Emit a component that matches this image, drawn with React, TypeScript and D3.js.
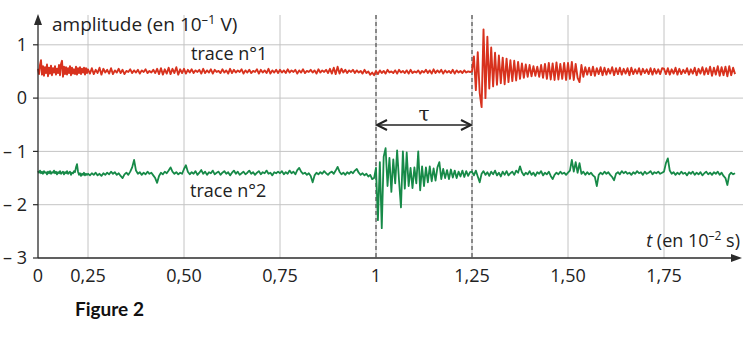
import React from 'react'
import * as d3 from 'd3'

const width = 753
const height = 353

// axis ticks
const xTicks = [0.25, 0.5, 0.75, 1, 1.25, 1.5, 1.75]
const xTickLabels = ['0,25', '0,50', '0,75', '1', '1,25', '1,50', '1,75']
const yTicks = [1, 0, -1, -2, -3]
const yTickLabels = ['1', '0', '– 1', '– 2', '– 3']
const yGrid = [1, 0, -1, -2]
const dashedTimes = [1, 1.25]

// one sample every 0.005 (×10⁻² s), in segments of 0.25
const sampleStep = 0.005
const segmentStarts = [0, 0.25, 0.5, 0.75, 1, 1.25, 1.5, 1.75]

// trace n°1 (red), amplitude in 10⁻¹ V
const trace1Seg0 = [.55,.45,.62,.71,.44,.60,.42,.58,.47,.63,.41,.57,.46,.61,.43,.56,.48,.60,.44,.55,.47,.62,.43,.64,.70,.40,.59,.45,.58,.44,.56,.47,.60,.43,.57,.46,.54,.45,.59,.44,.56,.47,.58,.45,.55,.48,.57,.44,.56,.47]
const trace1Seg1 = [.54,.46,.56,.45,.53,.47,.57,.44,.55,.48,.53,.46,.56,.45,.52,.48,.55,.47,.53,.45,.51,.49,.54,.47,.52,.48,.53,.46,.52,.49,.54,.47,.51,.48,.53,.47,.55,.45,.56,.44,.54,.46,.57,.45,.55,.47,.58,.44,.54,.47]
const trace1Seg2 = [.55,.46,.53,.48,.54,.47,.52,.49,.53,.46,.55,.47,.52,.48,.54,.46,.53,.49,.51,.47,.54,.48,.52,.46,.55,.47,.53,.48,.52,.49,.54,.46,.52,.48,.53,.47,.51,.49,.54,.46,.53,.48,.52,.47,.55,.46,.52,.48,.53,.47]
const trace1Seg3 = [.53,.48,.52,.47,.54,.48,.52,.49,.53,.46,.52,.48,.54,.47,.51,.49,.53,.48,.52,.46,.54,.48,.52,.49,.53,.47,.55,.46,.57,.45,.59,.46,.55,.48,.53,.47,.52,.49,.53,.47,.52,.48,.51,.46,.53,.47,.50,.44,.48,.43]
const trace1Seg4 = [.51,.45,.52,.47,.51,.46,.53,.48,.50,.47,.52,.46,.53,.48,.51,.47,.52,.46,.53,.47,.50,.48,.52,.46,.51,.48,.53,.47,.52,.46,.54,.47,.52,.48,.53,.46,.52,.48,.51,.47,.53,.46,.52,.48,.51,.47,.52,.48,.50,.49]
const trace1Seg5 = [.50,.78,.15,.86,.10,-.17,1.29,.0,1.15,.18,.95,.22,.85,.25,.80,.28,.76,.26,.74,.30,.71,.32,.70,.33,.68,.36,.65,.38,.63,.40,.62,.41,.60,.42,.59,.40,.62,.38,.64,.36,.66,.35,.65,.34,.67,.35,.64,.36,.66,.34]
const trace1Seg6 = [.66,.36,.68,.34,.64,.38,.30,.62,.40,.58,.44,.57,.43,.59,.42,.56,.45,.58,.43,.57,.44,.55,.46,.58,.43,.56,.45,.57,.44,.55,.46,.56,.43,.57,.45,.54,.46,.56,.44,.55,.47,.54,.45,.56,.44,.55,.46,.54,.45,.56]
const trace1Seg7 = [.55,.45,.56,.44,.54,.46,.57,.44,.55,.45,.53,.47,.56,.44,.54,.46,.57,.43,.55,.46,.58,.44,.56,.45,.59,.42,.57,.44,.60,.42,.58,.43,.59,.41,.60,.43,.57,.45]

// trace n°2 (green)
const trace2Seg0 = [-1.37,-1.40,-1.36,-1.41,-1.38,-1.42,-1.37,-1.40,-1.39,-1.43,-1.38,-1.41,-1.37,-1.42,-1.39,-1.40,-1.36,-1.41,-1.38,-1.43,-1.39,-1.41,-1.37,-1.42,-1.40,-1.38,-1.43,-1.39,-1.41,-1.37,-1.42,-1.40,-1.38,-1.44,-1.40,-1.41,-1.37,-1.39,-1.30,-1.24,-1.38,-1.44,-1.41,-1.46,-1.42,-1.44,-1.40,-1.45,-1.42,-1.44]
const trace2Seg1 = [-1.42,-1.45,-1.41,-1.44,-1.40,-1.45,-1.42,-1.46,-1.41,-1.44,-1.40,-1.43,-1.38,-1.42,-1.39,-1.44,-1.41,-1.46,-1.50,-1.43,-1.40,-1.44,-1.38,-1.30,-1.16,-1.36,-1.42,-1.39,-1.44,-1.40,-1.43,-1.38,-1.42,-1.40,-1.45,-1.50,-1.59,-1.46,-1.40,-1.43,-1.38,-1.41,-1.36,-1.30,-1.38,-1.42,-1.39,-1.43,-1.40,-1.42]
const trace2Seg2 = [-1.33,-1.26,-1.38,-1.43,-1.39,-1.42,-1.37,-1.44,-1.40,-1.35,-1.42,-1.38,-1.44,-1.39,-1.41,-1.36,-1.43,-1.40,-1.38,-1.44,-1.40,-1.37,-1.42,-1.39,-1.45,-1.40,-1.36,-1.42,-1.38,-1.44,-1.41,-1.38,-1.43,-1.40,-1.36,-1.42,-1.39,-1.44,-1.40,-1.37,-1.43,-1.39,-1.41,-1.36,-1.42,-1.40,-1.45,-1.39,-1.41,-1.38]
const trace2Seg3 = [-1.41,-1.37,-1.43,-1.39,-1.42,-1.36,-1.41,-1.38,-1.43,-1.35,-1.31,-1.38,-1.42,-1.40,-1.44,-1.41,-1.46,-1.58,-1.45,-1.40,-1.43,-1.39,-1.42,-1.37,-1.41,-1.44,-1.40,-1.38,-1.42,-1.36,-1.29,-1.38,-1.43,-1.40,-1.44,-1.39,-1.42,-1.38,-1.41,-1.36,-1.33,-1.40,-1.44,-1.41,-1.45,-1.42,-1.47,-1.44,-1.52,-1.50]
const trace2Seg4 = [-1.31,-2.29,-1.20,-2.44,-1.10,-0.94,-1.65,-1.12,-1.76,-1.15,-1.60,-0.98,-1.55,-2.05,-1.00,-1.70,-1.02,-1.65,-1.31,-1.69,-1.30,-1.60,-1.00,-1.73,-1.28,-1.65,-1.30,-1.58,-1.28,-1.56,-1.32,-1.55,-1.30,-1.20,-1.52,-1.33,-1.50,-1.35,-1.52,-1.34,-1.49,-1.36,-1.50,-1.38,-1.47,-1.36,-1.48,-1.37,-1.46,-1.39]
const trace2Seg5 = [-1.38,-1.45,-1.36,-1.47,-1.58,-1.42,-1.37,-1.44,-1.39,-1.46,-1.38,-1.43,-1.36,-1.45,-1.40,-1.47,-1.38,-1.44,-1.37,-1.45,-1.41,-1.38,-1.44,-1.36,-1.40,-1.28,-1.39,-1.45,-1.40,-1.43,-1.37,-1.44,-1.40,-1.46,-1.39,-1.42,-1.37,-1.45,-1.40,-1.43,-1.38,-1.46,-1.52,-1.44,-1.40,-1.43,-1.38,-1.42,-1.40,-1.44]
const trace2Seg6 = [-1.40,-1.36,-1.16,-1.38,-1.20,-1.40,-1.22,-1.42,-1.38,-1.44,-1.39,-1.43,-1.40,-1.45,-1.48,-1.65,-1.44,-1.40,-1.43,-1.38,-1.42,-1.39,-1.44,-1.48,-1.54,-1.42,-1.39,-1.43,-1.37,-1.41,-1.38,-1.42,-1.40,-1.44,-1.39,-1.42,-1.37,-1.41,-1.39,-1.44,-1.38,-1.42,-1.40,-1.37,-1.43,-1.39,-1.41,-1.38,-1.42,-1.40]
const trace2Seg7 = [-1.38,-1.22,-1.13,-1.36,-1.42,-1.39,-1.44,-1.40,-1.43,-1.38,-1.42,-1.40,-1.45,-1.39,-1.42,-1.38,-1.44,-1.40,-1.43,-1.39,-1.45,-1.41,-1.38,-1.43,-1.40,-1.44,-1.39,-1.42,-1.38,-1.44,-1.40,-1.46,-1.50,-1.63,-1.44,-1.40,-1.43,-1.41]

const trace1Segments = [trace1Seg0, trace1Seg1, trace1Seg2, trace1Seg3, trace1Seg4, trace1Seg5, trace1Seg6, trace1Seg7]
const trace2Segments = [trace2Seg0, trace2Seg1, trace2Seg2, trace2Seg3, trace2Seg4, trace2Seg5, trace2Seg6, trace2Seg7]

const toPoints = (segments: number[][]) =>
    segments.flatMap((seg, k) => seg.map((v, j) => ({ t: segmentStarts[k] + j * sampleStep, v })))

const font = '"Open Sans", "Noto Sans", sans-serif'
const axisColor = '#2b2b2b'
const gridColor = '#c4c4c4'

export default function App() {
    // the printed axis squeezes 0 → 0,25 into a shorter span
    const x = d3.scaleLinear().domain([0, 0.25, 2]).range([38, 88, 760])
    const y = d3.scaleLinear().domain([-3, 1]).range([258, 44.8])

    const left = x(0)
    const bottom = y(-3)
    const top = 14
    const right = 742

    const line = d3
        .line<{ t: number; v: number }>()
        .x((d) => x(d.t))
        .y((d) => y(d.v))

    const trace1 = toPoints(trace1Segments)
    const trace2 = toPoints(trace2Segments)

    const arrowY = 125
    const a0 = x(1)
    const a1 = x(1.25)

    return (
        <svg
            width={width}
            height={height}
            style={{ position: 'absolute', left: 0, top: 0, background: '#fff' }}
            fontFamily={font}
        >
            {/* grille */}
            {xTicks.map((t) => (
                <line key={'gx' + t} x1={x(t)} x2={x(t)} y1={top + 1} y2={bottom} stroke={gridColor} strokeWidth={1} />
            ))}
            {yGrid.map((v) => (
                <line key={'gy' + v} x1={left} x2={743} y1={y(v)} y2={y(v)} stroke={gridColor} strokeWidth={1} />
            ))}

            {/* pointillés t = 1 et t = 1,25 */}
            {dashedTimes.map((t) => (
                <line
                    key={'d' + t}
                    x1={x(t)}
                    x2={x(t)}
                    y1={top + 1}
                    y2={bottom}
                    stroke="#333"
                    strokeWidth={1}
                    strokeDasharray="4,3"
                />
            ))}

            {/* traces */}
            <path d={line(trace1) ?? ''} fill="none" stroke="#d8321e" strokeWidth={1.9} strokeLinejoin="round" />
            <path d={line(trace2) ?? ''} fill="none" stroke="#178a48" strokeWidth={1.8} strokeLinejoin="round" />

            {/* axes */}
            <line x1={left} x2={left} y1={bottom} y2={top + 6} stroke={axisColor} strokeWidth={1.3} />
            <path d={`M${left},${top} L${left - 4},${top + 11} L${left + 4},${top + 11} Z`} fill={axisColor} />
            <line x1={left} x2={right - 6} y1={bottom} y2={bottom} stroke={axisColor} strokeWidth={1.3} />
            <path d={`M${right},${bottom} L${right - 11},${bottom - 4} L${right - 11},${bottom + 4} Z`} fill={axisColor} />

            {yTicks.map((v, i) => (
                <g key={'yt' + v}>
                    <line x1={left - 5} x2={left} y1={y(v)} y2={y(v)} stroke={axisColor} strokeWidth={1.2} />
                    <text x={27} y={y(v)} dy="0.35em" textAnchor="end" fontSize={18} fill="#222">
                        {yTickLabels[i]}
                    </text>
                </g>
            ))}
            <text x={left} y={bottom + 24} textAnchor="middle" fontSize={18} fill="#222">
                0
            </text>
            {xTicks.map((t, i) => (
                <text key={'xt' + t} x={x(t)} y={bottom + 24} textAnchor="middle" fontSize={18} fill="#222">
                    {xTickLabels[i]}
                </text>
            ))}

            {/* titres des axes */}
            <text x={52} y={31} fontSize={19} fill="#222">
                amplitude (en 10<tspan dy={-7} fontSize={13}>–1</tspan>
                <tspan dy={7}> V)</tspan>
            </text>
            <text x={740} y={247} textAnchor="end" fontSize={18} fill="#222">
                <tspan fontStyle="italic">t</tspan> (en 10<tspan dy={-7} fontSize={12}>–2</tspan>
                <tspan dy={7}> s)</tspan>
            </text>

            {/* étiquettes des traces */}
            <text x={191} y={60} fontSize={18} fill="#222">
                trace n°1
            </text>
            <text x={190} y={197} fontSize={18} fill="#222">
                trace n°2
            </text>

            {/* τ */}
            <line x1={a0 + 1} x2={a1 - 1} y1={arrowY} y2={arrowY} stroke="#222" strokeWidth={1.4} />
            <path
                d={`M${a0 + 11},${arrowY - 5} L${a0 + 1},${arrowY} L${a0 + 11},${arrowY + 5}`}
                fill="none"
                stroke="#222"
                strokeWidth={2}
            />
            <path
                d={`M${a1 - 11},${arrowY - 5} L${a1 - 1},${arrowY} L${a1 - 11},${arrowY + 5}`}
                fill="none"
                stroke="#222"
                strokeWidth={2}
            />
            <text x={(a0 + a1) / 2} y={121} textAnchor="middle" fontSize={20} fill="#222" fontFamily='"DejaVu Serif", serif'>
                τ
            </text>

            <text x={75} y={316} fontSize={19} fontWeight="bold" fill="#111" fontFamily='Lato, "Liberation Sans", sans-serif'>
                Figure 2
            </text>
        </svg>
    )
}
